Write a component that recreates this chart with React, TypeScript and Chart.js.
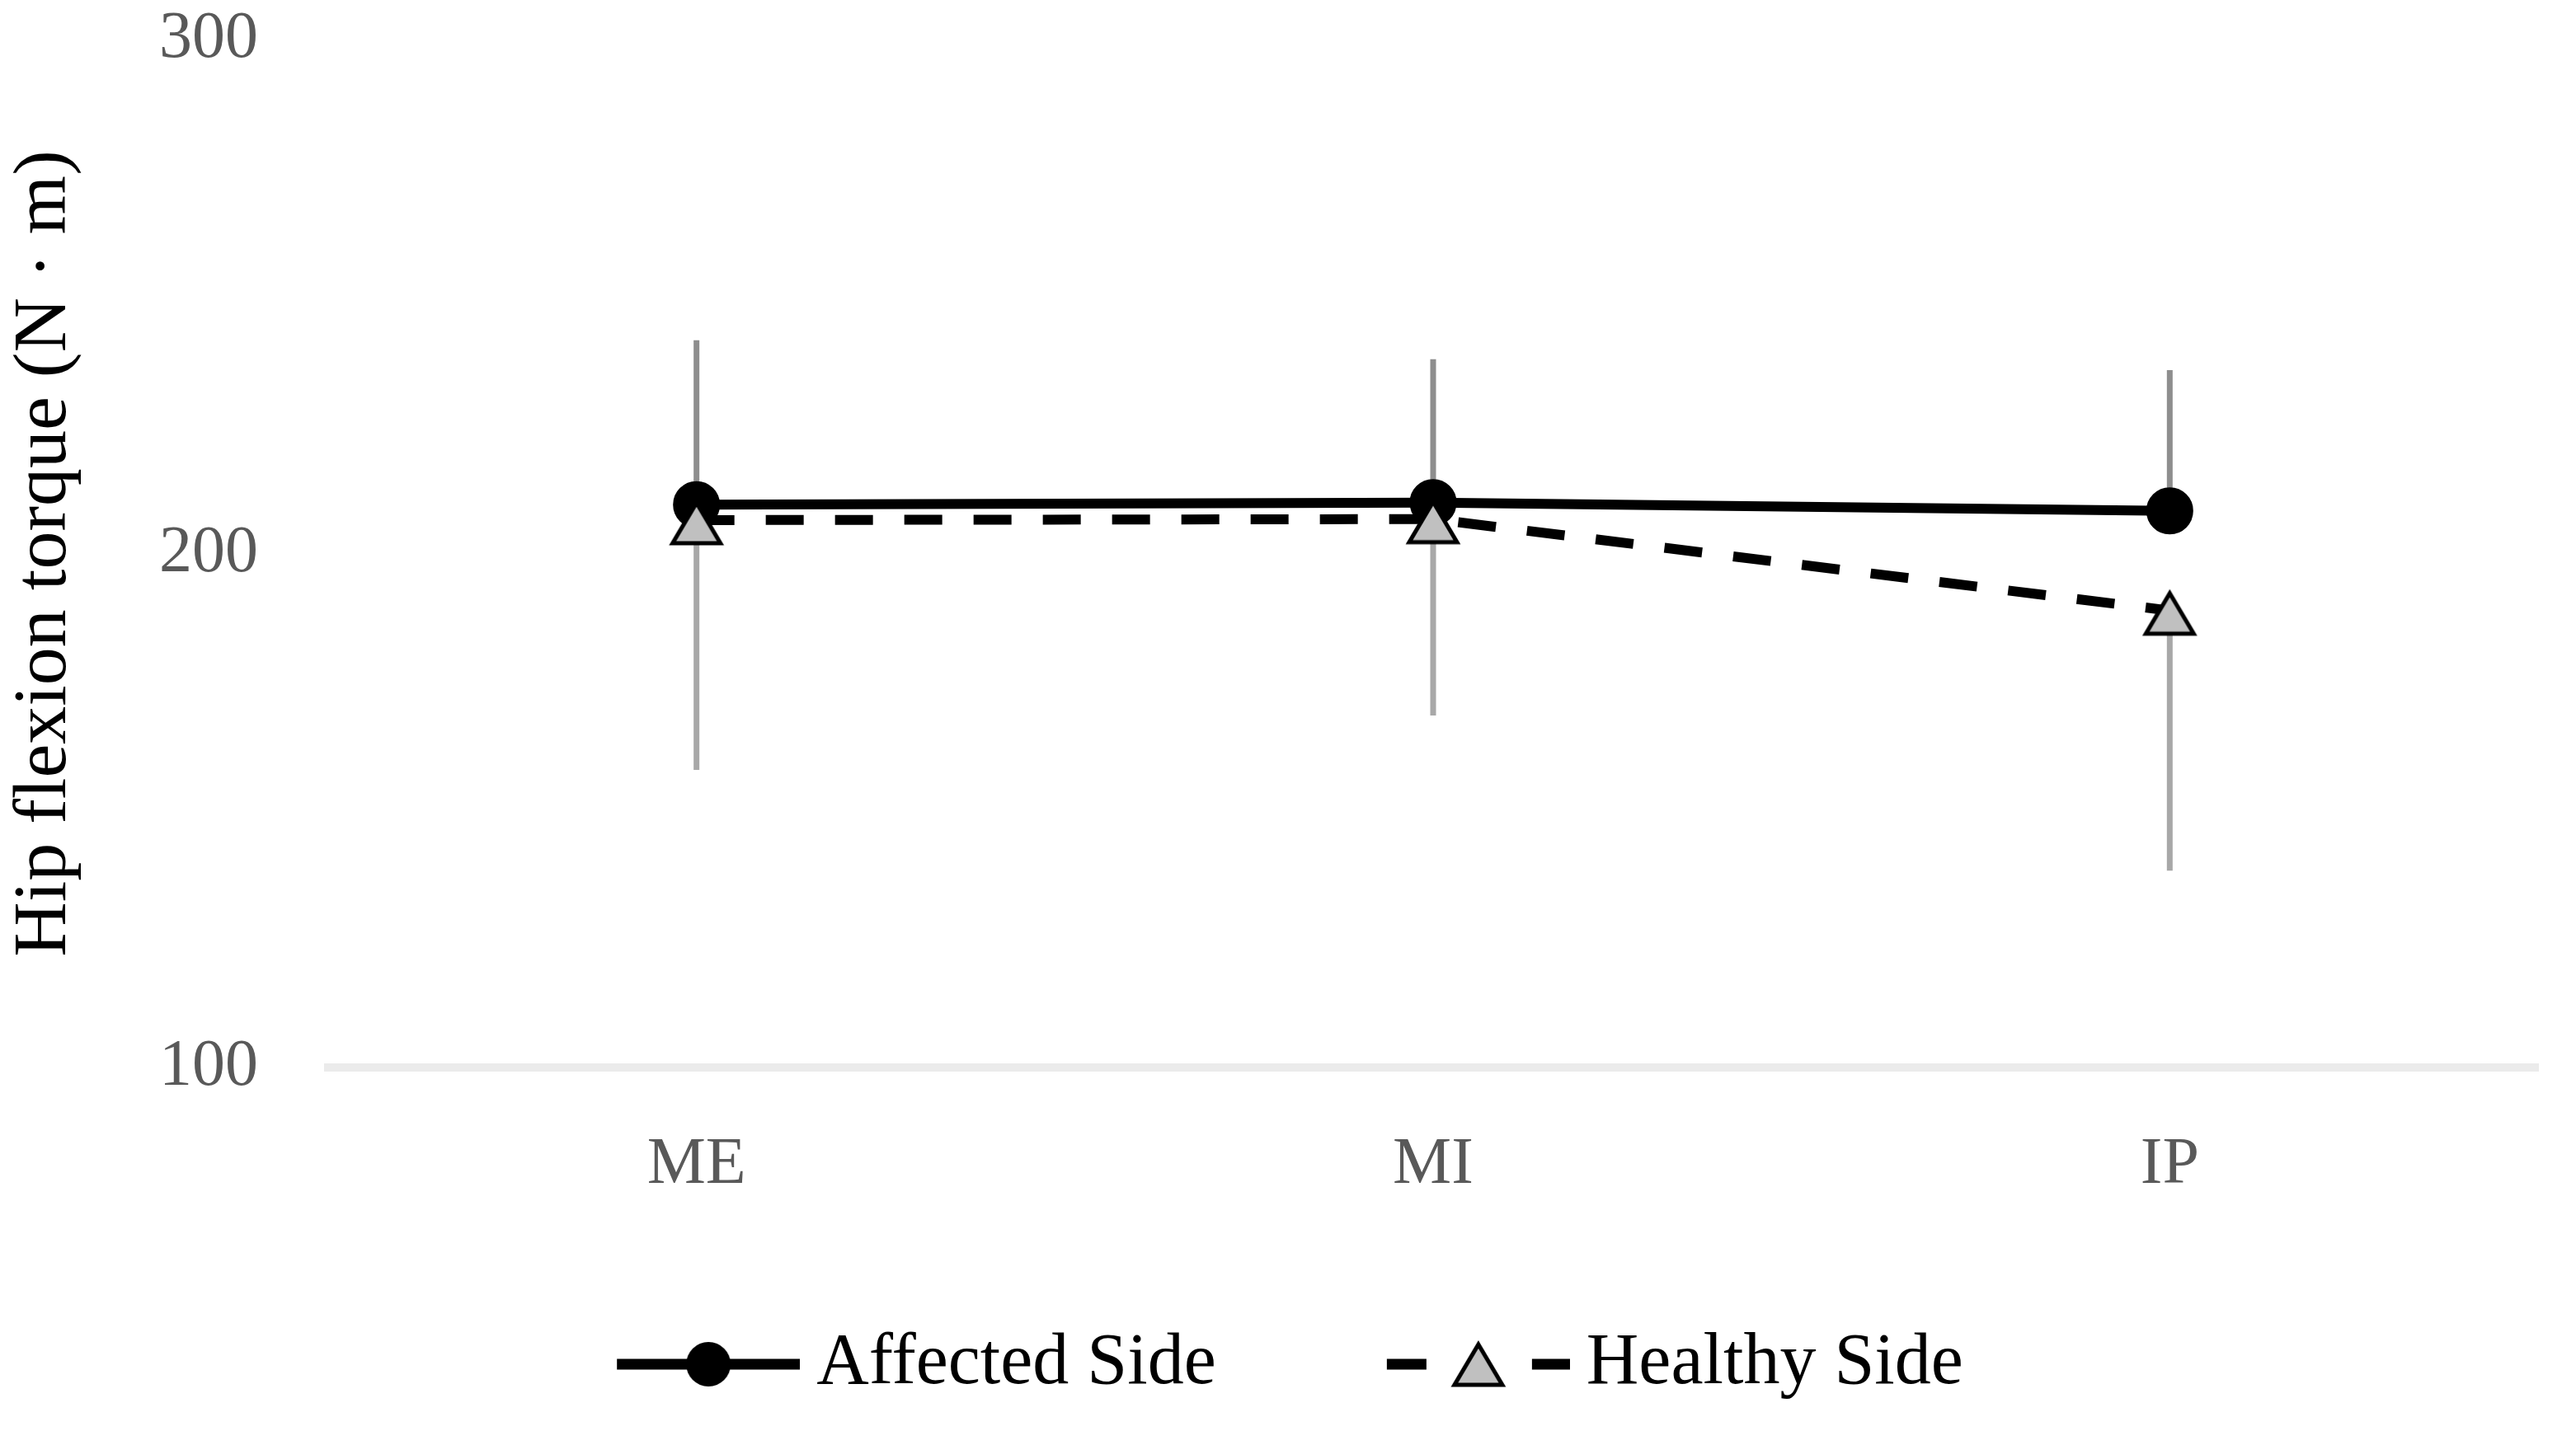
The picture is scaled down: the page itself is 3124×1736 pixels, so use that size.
import React, { useEffect, useRef } from 'react';
import { Chart, registerables } from 'chart.js';

Chart.register(...registerables);

const categories = ['ME', 'MI', 'IP'];
const affectedMean = [209.5, 209.9, 208.3];
const affectedSD = [32.0, 27.9, 27.4];
const healthyMean = [206.5, 206.7, 188.9];
const healthySD = [48.6, 38.2, 50.6];
const yTicks = [100, 200, 300];
const seriesLabels = ['Affected Side', 'Healthy Side'];
const yTitle = 'Hip flexion torque (N · m)';

// legend icon geometry (style only)
const ICON_W = 297;
const ICON_H = 72;
const ICON_CONTENT = 222;

function makeTriangle(): HTMLCanvasElement {
  const c = document.createElement('canvas');
  c.width = 72;
  c.height = 72;
  const g = c.getContext('2d')!;
  g.beginPath();
  g.moveTo(36, 15);
  g.lineTo(65, 64);
  g.lineTo(7, 64);
  g.closePath();
  g.fillStyle = '#c0c0c0';
  g.fill();
  g.lineWidth = 5;
  g.lineJoin = 'miter';
  g.strokeStyle = '#000';
  g.stroke();
  return c;
}

function makeAffectedIcon(): HTMLCanvasElement {
  const c = document.createElement('canvas');
  c.width = ICON_W;
  c.height = ICON_H;
  const g = c.getContext('2d')!;
  const x0 = ICON_W - ICON_CONTENT;
  const cx = x0 + ICON_CONTENT / 2;
  g.strokeStyle = '#000';
  g.lineWidth = 13;
  g.lineCap = 'butt';
  g.beginPath();
  g.moveTo(x0, ICON_H / 2);
  g.lineTo(ICON_W, ICON_H / 2);
  g.stroke();
  g.fillStyle = '#000';
  g.beginPath();
  g.arc(cx, ICON_H / 2, 27, 0, Math.PI * 2);
  g.fill();
  return c;
}

function makeHealthyIcon(tri: HTMLCanvasElement): HTMLCanvasElement {
  const c = document.createElement('canvas');
  c.width = ICON_W;
  c.height = ICON_H;
  const g = c.getContext('2d')!;
  const x0 = ICON_W - ICON_CONTENT;
  const cx = x0 + ICON_CONTENT / 2;
  g.strokeStyle = '#000';
  g.lineWidth = 13;
  g.lineCap = 'butt';
  g.beginPath();
  g.moveTo(x0, ICON_H / 2);
  g.lineTo(x0 + 48, ICON_H / 2);
  g.moveTo(ICON_W - 46, ICON_H / 2);
  g.lineTo(ICON_W, ICON_H / 2);
  g.stroke();
  g.drawImage(tri, cx - tri.width / 2, ICON_H / 2 - tri.height / 2 - 3);
  return c;
}

const errorBarPlugin = {
  id: 'errorBars',
  beforeDatasetsDraw(chart: any) {
    const ctx = chart.ctx;
    const y = chart.scales.y;
    const specs = [
      { ds: 0, mean: affectedMean, sd: affectedSD, dir: 1, color: '#8e8e8e' },
      { ds: 1, mean: healthyMean, sd: healthySD, dir: -1, color: '#a8a8a8' },
    ];
    ctx.save();
    ctx.lineWidth = 7;
    ctx.lineCap = 'butt';
    specs.forEach((s) => {
      const meta = chart.getDatasetMeta(s.ds);
      meta.data.forEach((pt: any, i: number) => {
        const y0 = y.getPixelForValue(s.mean[i]);
        const y1 = y.getPixelForValue(s.mean[i] + s.dir * s.sd[i]);
        ctx.strokeStyle = s.color;
        ctx.beginPath();
        ctx.moveTo(pt.x, y0);
        ctx.lineTo(pt.x, y1);
        ctx.stroke();
      });
    });
    ctx.restore();
  },
};

export default function App() {
  const ref = useRef<HTMLCanvasElement | null>(null);

  useEffect(() => {
    document.body.style.margin = '0';
    const canvas = ref.current;
    if (!canvas) return;
    Chart.defaults.font.family = "'Liberation Serif', 'Times New Roman', serif";
    const tri = makeTriangle();
    const affIcon = makeAffectedIcon();
    const healthyIcon = makeHealthyIcon(tri);

    const chart = new Chart(canvas, {
      type: 'line',
      data: {
        labels: categories,
        datasets: [
          {
            label: seriesLabels[0],
            data: affectedMean,
            borderColor: '#000',
            backgroundColor: '#000',
            borderWidth: 12,
            pointStyle: 'circle',
            pointRadius: 27,
            pointHoverRadius: 27,
            pointBorderWidth: 3,
            pointBackgroundColor: '#000',
            pointBorderColor: '#000',
            tension: 0,
            order: 1,
          },
          {
            label: seriesLabels[1],
            data: healthyMean,
            borderColor: '#000',
            backgroundColor: '#c0c0c0',
            borderWidth: 12,
            borderDash: [46, 38],
            pointStyle: tri as any,
            pointRadius: 30,
            pointHoverRadius: 30,
            tension: 0,
            order: 0,
          },
        ],
      },
      options: {
        responsive: false,
        animation: false,
        events: [],
        layout: { padding: { top: 48, left: 0, right: 46, bottom: 27 } },
        plugins: {
          tooltip: { enabled: false },
          legend: {
            display: true,
            position: 'bottom',
            labels: {
              usePointStyle: true,
              pointStyleWidth: 249,
              padding: 156,
              color: '#000',
              font: { size: 88 },
              generateLabels: () => [
                {
                  text: seriesLabels[0],
                  pointStyle: affIcon as any,
                  fillStyle: '#000',
                  strokeStyle: '#000',
                  lineWidth: 0,
                  fontColor: '#000',
                  hidden: false,
                  datasetIndex: 0,
                },
                {
                  text: seriesLabels[1],
                  pointStyle: healthyIcon as any,
                  fillStyle: '#c0c0c0',
                  strokeStyle: '#000',
                  lineWidth: 0,
                  fontColor: '#000',
                  hidden: false,
                  datasetIndex: 1,
                },
              ],
            },
          },
        },
        scales: {
          x: {
            type: 'category',
            offset: true,
            grid: { display: false, drawTicks: false },
            border: { display: true, color: '#ebebeb', width: 10 },
            ticks: {
              color: '#595959',
              font: { size: 80 },
              padding: 71,
              maxRotation: 0,
              autoSkip: false,
            },
            afterFit: (s: any) => {
              s.height = 160;
            },
          },
          y: {
            type: 'linear',
            position: 'left',
            min: 100,
            max: 300,
            grid: { display: false, drawTicks: false },
            border: { display: false },
            ticks: { color: '#595959', font: { size: 80 }, padding: 85 },
            afterBuildTicks: (s: any) => {
              s.ticks = yTicks.map((v) => ({ value: v }));
            },
            title: {
              display: true,
              text: yTitle,
              color: '#000',
              font: { size: 92 },
              padding: { top: 0, bottom: 0 },
            },
            afterFit: (s: any) => {
              s.width = 398;
              s.paddingTop = 0;
              s.paddingBottom = 0;
            },
          },
        },
      },
      plugins: [errorBarPlugin],
    });

    return () => {
      chart.destroy();
    };
  }, []);

  return (
    <div style={{ width: 3124, height: 1736, background: '#fff' }}>
      <canvas ref={ref} width={3124} height={1736} style={{ display: 'block' }} />
    </div>
  );
}
